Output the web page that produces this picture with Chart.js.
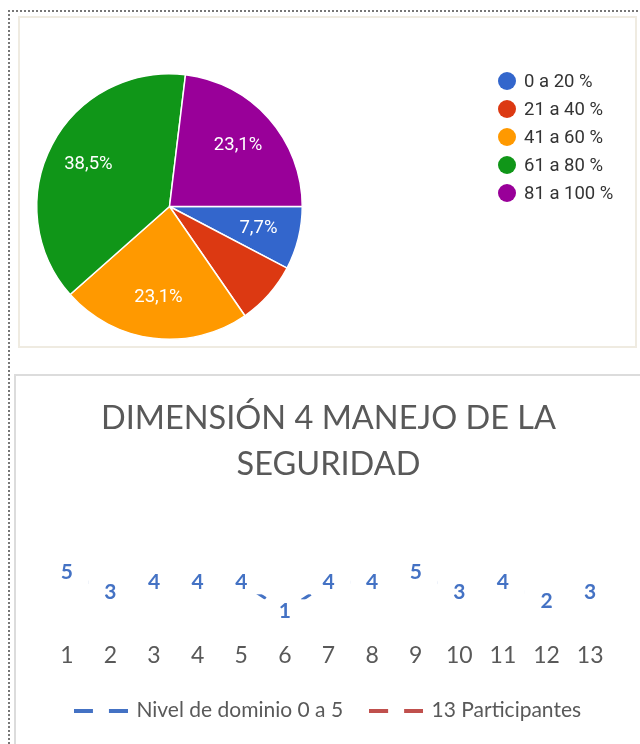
<!DOCTYPE html>
<html>
<head>
<meta charset="utf-8">
<script src="https://cdn.jsdelivr.net/npm/chart.js@4.4.1/dist/chart.umd.min.js"></script>
<style>
  body { margin: 0; background: #fff; width: 640px; height: 744px; overflow: hidden; position: relative; }
  #frame { position: absolute; left: 8px; top: 10px; width: 640px; height: 740px;
           border-top: 2px dotted #777; border-left: 2px dotted #777; }
  #pieBox { position: absolute; left: 18px; top: 16px; width: 615px; height: 328px; border: 2px solid #efebe1; }
  #lineBox { position: absolute; left: 14px; top: 374px; width: 660px; height: 420px; border: 2px solid #dcdcdc; }
  canvas { position: absolute; }
</style>
</head>
<body>
<div id="frame"></div>
<div id="pieBox"></div>
<div id="lineBox"></div>
<canvas id="pieChart" width="614" height="328" style="left:20px;top:18px"></canvas>
<canvas id="lineChart" width="624" height="368" style="left:16px;top:376px"></canvas>
<script>
// pie data (13 respuestas)
var pieLabels = ['0 a 20 %', '21 a 40 %', '41 a 60 %', '61 a 80 %', '81 a 100 %'];
var pieCounts = [1, 1, 3, 5, 3];
var pieColors = ['#3366cc', '#dc3912', '#ff9900', '#109618', '#990099'];
var pieShowPct = [true, false, true, true, true];

// line chart data
var titleLines = ['DIMENSIÓN 4 MANEJO DE LA', 'SEGURIDAD'];
var participantes = ['1', '2', '3', '4', '5', '6', '7', '8', '9', '10', '11', '12', '13'];
var nivelDominio = [5, 3, 4, 4, 4, 1, 4, 4, 5, 3, 4, 2, 3];
var trece = [];

// percentage text on slices + legend on the right
var pieText = {
  id: 'pieText',
  afterDraw: function (chart) {
    var ctx = chart.ctx;
    var ds = chart.data.datasets[0];
    var total = ds.data.reduce(function (a, b) { return a + b; }, 0);
    var meta = chart.getDatasetMeta(0);
    ctx.save();
    ctx.font = '18.5px Roboto';
    ctx.textAlign = 'center';
    ctx.textBaseline = 'middle';
    ctx.fillStyle = '#fff';
    meta.data.forEach(function (arc, i) {
      if (!pieShowPct[i]) return;
      var p = arc.getProps(['x', 'y', 'startAngle', 'endAngle', 'outerRadius'], true);
      var a = (p.startAngle + p.endAngle) / 2;
      var r = p.outerRadius * 0.69;
      var txt = (ds.data[i] / total * 100).toFixed(1).replace('.', ',') + '%';
      ctx.fillText(txt, p.x + Math.cos(a) * r, p.y + Math.sin(a) * r);
    });
    // legend
    ctx.textAlign = 'left';
    chart.data.labels.forEach(function (lab, i) {
      var y = 63 + i * 28;
      ctx.beginPath();
      ctx.arc(487, y, 9, 0, Math.PI * 2);
      ctx.fillStyle = ds.backgroundColor[i];
      ctx.fill();
      ctx.fillStyle = '#333';
      ctx.fillText(lab, 504, y + 1);
    });
    ctx.restore();
  }
};

new Chart(document.getElementById('pieChart'), {
  type: 'pie',
  data: {
    labels: pieLabels,
    datasets: [{
      data: pieCounts,
      backgroundColor: pieColors,
      borderColor: '#fff',
      borderWidth: 1.5
    }]
  },
  options: {
    responsive: false,
    animation: false,
    rotation: 90,
    layout: { padding: { left: 16, top: 55, right: 331, bottom: 6 } },
    plugins: { legend: { display: false }, tooltip: { enabled: false } }
  },
  plugins: [pieText]
});

// little "— —" sample used as legend symbol
function dashSample(color) {
  var c = document.createElement('canvas');
  c.width = 54; c.height = 4;
  var g = c.getContext('2d');
  g.fillStyle = color;
  g.fillRect(0, 0, 19, 4);
  g.fillRect(35, 0, 19, 4);
  return c;
}

// value labels sitting on the points with a white box behind
var valueLabels = {
  id: 'valueLabels',
  afterDatasetsDraw: function (chart) {
    var ctx = chart.ctx;
    var ds = chart.data.datasets[0];
    var meta = chart.getDatasetMeta(0);
    ctx.save();
    ctx.font = 'bold 21px Lato';
    ctx.textAlign = 'center';
    ctx.textBaseline = 'middle';
    meta.data.forEach(function (pt, i) {
      ctx.fillStyle = '#fff';
      ctx.fillRect(pt.x - 22, pt.y - 12, 44, 24);
      ctx.fillStyle = ds.borderColor;
      ctx.fillText(String(ds.data[i]), pt.x, pt.y);
    });
    ctx.restore();
  }
};

new Chart(document.getElementById('lineChart'), {
  type: 'line',
  data: {
    labels: participantes,
    datasets: [
      {
        label: 'Nivel de dominio 0 a 5',
        data: nivelDominio,
        borderColor: '#4472c4',
        borderWidth: 3,
        borderDash: [11, 7],
        pointRadius: 0,
        tension: 0
      },
      {
        label: '13 Participantes',
        data: trece,
        borderColor: '#c0504d',
        borderWidth: 3,
        borderDash: [11, 7],
        pointRadius: 0
      }
    ]
  },
  options: {
    responsive: false,
    animation: false,
    layout: { padding: { left: 29, right: 28, top: 0, bottom: 13 } },
    scales: {
      x: {
        offset: true,
        grid: { display: false, drawTicks: false },
        border: { display: false },
        ticks: { color: '#595959', font: { family: 'Lato', size: 23 }, padding: 21 },
        afterFit: function (scale) { scale.height = 51; }
      },
      y: { display: false, min: 0, max: 6 }
    },
    plugins: {
      title: {
        display: true,
        text: titleLines,
        color: '#595959',
        font: { family: 'Lato', weight: 'normal', size: 32.5, lineHeight: 1.415 },
        padding: { top: 20, bottom: 75 }
      },
      legend: {
        position: 'bottom',
        labels: {
          color: '#595959',
          font: { family: 'Lato', size: 21 },
          usePointStyle: true,
          pointStyleWidth: 50,
          padding: 28,
          generateLabels: function (chart) {
            var items = Chart.defaults.plugins.legend.labels.generateLabels(chart);
            items.forEach(function (it) {
              it.pointStyle = dashSample(chart.data.datasets[it.datasetIndex].borderColor);
            });
            return items;
          }
        }
      },
      tooltip: { enabled: false }
    }
  },
  plugins: [valueLabels]
});
</script>
</body>
</html>
